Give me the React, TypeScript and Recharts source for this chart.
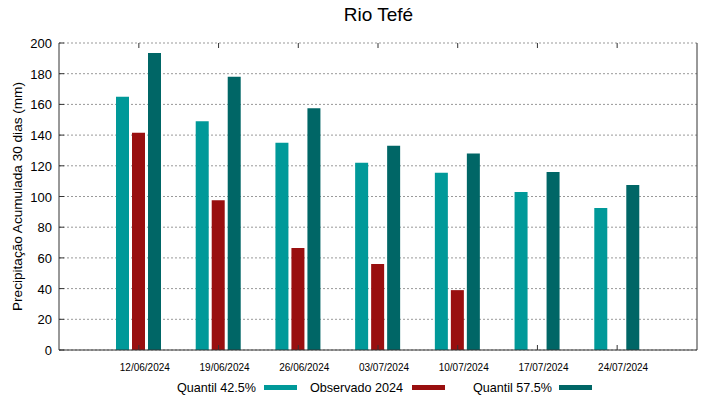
import React from "react"
import { BarChart, Bar, XAxis, YAxis, CartesianGrid } from "recharts"

// dates of each weekly forecast
const categories = ["12/06/2024", "19/06/2024", "26/06/2024", "03/07/2024", "10/07/2024", "17/07/2024", "24/07/2024"]
const quantil425 = [165, 149, 135, 122, 115.5, 103, 92.5]
const observado2024: (number | null)[] = [141.5, 97.5, 66.5, 56, 39, null, null]
const quantil575 = [193.5, 178, 157.5, 133, 128, 116, 107.5]
const yTicks = [0, 20, 40, 60, 80, 100, 120, 140, 160, 180, 200]

const seriesNames = ["Quantil 42.5%", "Observado 2024", "Quantil 57.5%"]
const seriesColors = ["#009999", "#990f0f", "#006666"]

const data = categories.map((date, i) => ({
  date,
  q425: quantil425[i],
  obs: observado2024[i],
  q575: quantil575[i],
}))

const FONT = "'Liberation Sans', Arial, sans-serif"
const AXIS = "#333333"

const W = 719
const H = 399
const TOP = 43
const XAXIS_H = 49
const BOTTOM = H - XAXIS_H

// bottom ticks point inward, mirrored on the top border as gnuplot does
const BottomTick = ({ x, payload }: any) => (
  <g>
    <line x1={x} x2={x} y1={BOTTOM} y2={BOTTOM - 5} stroke={AXIS} strokeWidth={1} />
    <line x1={x} x2={x} y1={TOP} y2={TOP + 5} stroke={AXIS} strokeWidth={1} />
    <text x={x + 6} y={BOTTOM + 21} textAnchor="middle" fontSize={10} fill="#000" fontFamily={FONT}>
      {payload.value}
    </text>
  </g>
)

const LeftTick = ({ y, payload }: any) => (
  <g>
    <line x1={59} x2={64} y1={y} y2={y} stroke={AXIS} strokeWidth={1} />
    <text x={52} y={y + 5} textAnchor="end" fontSize={13} fill="#000" fontFamily={FONT}>
      {payload.value}
    </text>
  </g>
)

const RightTick = ({ y }: any) => <line x1={W - 22} x2={W - 27} y1={y} y2={y} stroke={AXIS} strokeWidth={1} />

const YLabel = ({ viewBox }: any) => {
  const cx = 17
  const cy = viewBox.y + viewBox.height / 2
  return (
    <text
      x={cx}
      y={cy}
      transform={`rotate(-90 ${cx} ${cy})`}
      textAnchor="middle"
      dominantBaseline="central"
      fontSize={13.6}
      fill="#000"
      fontFamily={FONT}
    >
      Precipitação Acumulada 30 dias (mm)
    </text>
  )
}

// legend items: text followed by a colour swatch
const legendPos = [
  { textX: 256, swatchX: 264 },
  { textX: 403, swatchX: 412 },
  { textX: 552, swatchX: 559 },
]

export default function App() {
  return (
    <div style={{ position: "absolute", left: 0, top: 0, width: W, height: H, background: "#fff" }}>
      <div
        style={{
          position: "absolute",
          left: 0,
          width: 757,
          top: 4,
          textAlign: "center",
          fontFamily: FONT,
          fontSize: 19,
          color: "#000",
        }}
      >
        Rio Tefé
      </div>
      <BarChart
        width={W}
        height={H}
        data={data}
        margin={{ top: TOP, right: 0, left: 0, bottom: 0 }}
        barSize={13}
        barGap={3}
      >
        <CartesianGrid vertical={false} stroke="#999" strokeDasharray="2 2" />
        <XAxis
          dataKey="date"
          interval={0}
          height={XAXIS_H}
          padding={{ left: 40, right: 40 }}
          tickSize={0}
          tickMargin={0}
          tickLine={false}
          axisLine={{ stroke: AXIS }}
          tick={<BottomTick />}
        />
        <XAxis
          xAxisId="top"
          dataKey="date"
          orientation="top"
          height={0}
          padding={{ left: 40, right: 40 }}
          tick={false}
          tickLine={false}
          axisLine={{ stroke: AXIS }}
        />
        <YAxis
          width={59}
          domain={[0, 200]}
          ticks={yTicks}
          interval={0}
          tickSize={0}
          tickMargin={0}
          tickLine={false}
          axisLine={{ stroke: AXIS }}
          tick={<LeftTick />}
          label={<YLabel />}
        />
        <YAxis
          yAxisId="right"
          orientation="right"
          width={22}
          domain={[0, 200]}
          ticks={yTicks}
          interval={0}
          tickSize={0}
          tickMargin={0}
          tickLine={false}
          axisLine={{ stroke: AXIS }}
          tick={<RightTick />}
        />
        <Bar dataKey="q425" name={seriesNames[0]} fill={seriesColors[0]} isAnimationActive={false} />
        <Bar dataKey="obs" name={seriesNames[1]} fill={seriesColors[1]} isAnimationActive={false} />
        <Bar dataKey="q575" name={seriesNames[2]} fill={seriesColors[2]} isAnimationActive={false} />
      </BarChart>
      <svg style={{ position: "absolute", left: 0, top: 0 }} width={W} height={H}>
        {seriesNames.map((name, i) => (
          <g key={name}>
            <text
              x={legendPos[i].textX}
              y={392}
              textAnchor="end"
              fontSize={12.6}
              fill="#000"
              fontFamily={FONT}
            >
              {name}
            </text>
            <rect x={legendPos[i].swatchX} y={385} width={33} height={5} fill={seriesColors[i]} />
          </g>
        ))}
      </svg>
    </div>
  )
}
